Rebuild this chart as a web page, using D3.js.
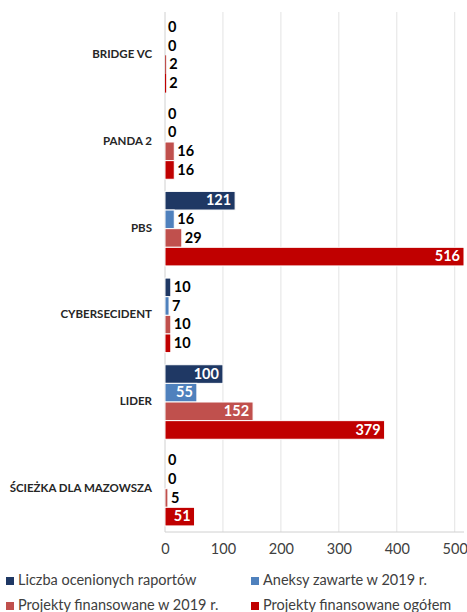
<!DOCTYPE html>
<html>
<head>
<meta charset="utf-8">
<script src="https://cdn.jsdelivr.net/npm/d3@7"></script>
<style>
	body { margin: 0; background: #fff; }
	svg { display: block; font-family: Lato, 'Open Sans', sans-serif; }
</style>
</head>
<body>
<svg id="chart" width="467" height="612"></svg>
<script>
// categories, top to bottom
const categories = ['BRIDGE VC', 'PANDA 2', 'PBS', 'CYBERSECIDENT', 'LIDER', 'ŚCIEŻKA DLA MAZOWSZA']
const seriesNames = [
	'Liczba ocenionych raportów',
	'Aneksy zawarte w 2019 r.',
	'Projekty finansowane w 2019 r.',
	'Projekty finansowane ogółem'
]
const seriesColors = ['#1f3864', '#4f81bd', '#c0504d', '#c00000']
// values per series, same order as categories
const liczbaRaportow = [0, 0, 121, 10, 100, 0]
const aneksy2019 = [0, 0, 16, 7, 55, 0]
const projekty2019 = [2, 16, 29, 10, 152, 5]
const projektyOgolem = [2, 16, 516, 10, 379, 51]
const xTicks = [0, 100, 200, 300, 400, 500]

const series = [liczbaRaportow, aneksy2019, projekty2019, projektyOgolem]

const svg = d3.select('#chart')
const margin = { top: 12, left: 165, right: 3, bottom: 80 }
const width = 467 - margin.left - margin.right
const height = 612 - margin.top - margin.bottom

const x = d3.scaleLinear().domain([0, 516]).range([0, width])
const y0 = d3.scaleBand().domain(categories).range([0, height]).paddingInner(0.14).paddingOuter(0.07)
const y1 = d3.scaleBand().domain(d3.range(4)).range([0, y0.bandwidth()])

const g = svg.append('g').attr('transform', `translate(${margin.left},${margin.top})`)

// gridlines
g.append('g')
	.selectAll('line')
	.data(xTicks.slice(1))
	.join('line')
	.attr('x1', d => x(d)).attr('x2', d => x(d))
	.attr('y1', 0).attr('y2', height)
	.attr('stroke', '#e3e3e3')

// axis lines
g.append('line').attr('x1', 0).attr('x2', 0).attr('y1', 0).attr('y2', height).attr('stroke', '#d0d0d0')
g.append('line').attr('x1', 0).attr('x2', width).attr('y1', height).attr('y2', height).attr('stroke', '#d0d0d0')

// x axis labels
const xAxis = g.append('g')
	.attr('transform', `translate(0,${height})`)
	.call(d3.axisBottom(x).tickValues(xTicks).tickSize(0).tickPadding(12))
xAxis.select('.domain').remove()
xAxis.selectAll('text').attr('font-size', 14.5).attr('fill', '#404040').attr('font-family', 'Lato, sans-serif')

// category labels
g.append('g')
	.selectAll('text')
	.data(categories)
	.join('text')
	.attr('x', -13)
	.attr('y', d => y0(d) + y0.bandwidth() / 2)
	.attr('text-anchor', 'end')
	.attr('dominant-baseline', 'middle')
	.attr('font-size', 11.5)
	.attr('font-weight', 'bold')
	.attr('fill', '#262626')
	.text(d => d)

// bars
const groups = g.append('g')
	.selectAll('g')
	.data(categories)
	.join('g')
	.attr('transform', d => `translate(0,${y0(d)})`)

groups.each(function (cat, ci) {
	const grp = d3.select(this)
	series.forEach((vals, si) => {
		const v = vals[ci]
		const bw = x(v) - x(0)
		grp.append('rect')
			.attr('x', x(0))
			.attr('y', y1(si))
			.attr('width', bw)
			.attr('height', y1.bandwidth())
			.attr('fill', seriesColors[si])
			.attr('stroke', '#fff')
			.attr('stroke-width', bw > 2 ? 1 : 0)

		const inside = bw > 28
		grp.append('text')
			.attr('x', inside ? x(v) - 4 : x(v) + 3)
			.attr('y', y1(si) + y1.bandwidth() / 2 + 1)
			.attr('text-anchor', inside ? 'end' : 'start')
			.attr('dominant-baseline', 'middle')
			.attr('font-size', 14.5)
			.attr('font-weight', 'bold')
			.attr('fill', inside ? '#fff' : '#000')
			.text(v)
	})
})

// legend
const legend = svg.append('g').attr('transform', 'translate(6,581)')
seriesNames.forEach((name, i) => {
	const lg = legend.append('g')
		.attr('transform', `translate(${(i % 2) * 245},${Math.floor(i / 2) * 25})`)
	lg.append('rect').attr('x', 0).attr('y', -4).attr('width', 8).attr('height', 8).attr('fill', seriesColors[i])
	lg.append('text')
		.attr('x', 12)
		.attr('y', 0)
		.attr('dominant-baseline', 'middle')
		.attr('font-size', 14.5)
		.attr('fill', '#404040')
		.text(name)
})
</script>
</body>
</html>
